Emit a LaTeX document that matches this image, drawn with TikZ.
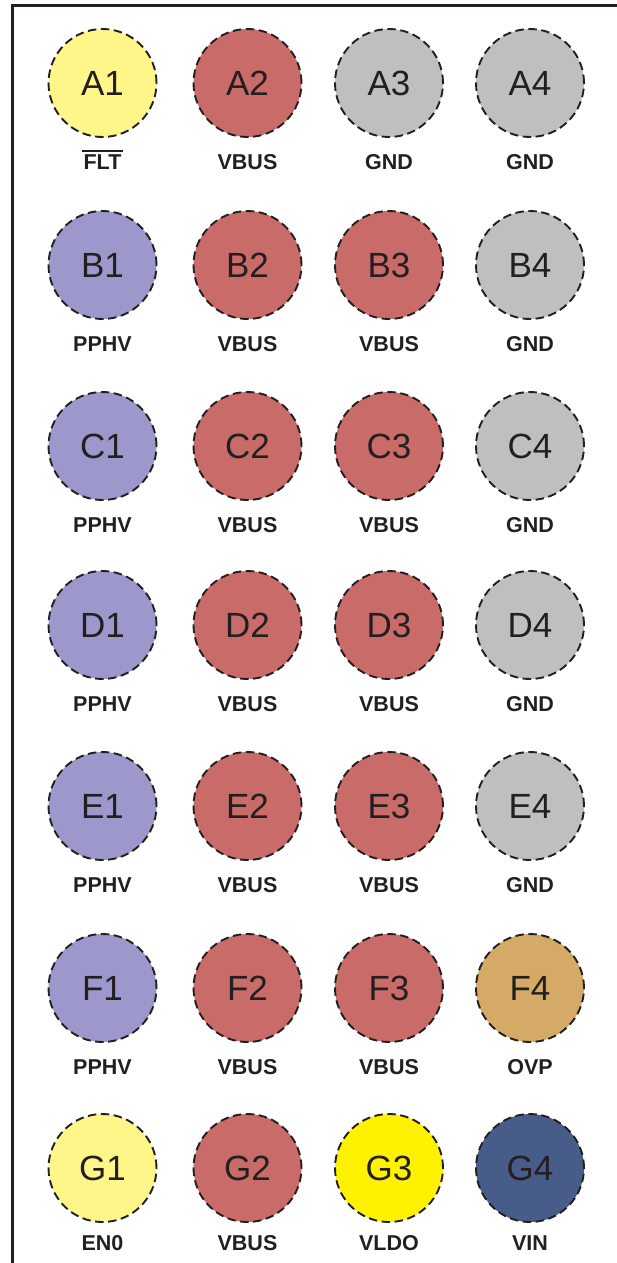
\documentclass[tikz,border=0pt]{standalone}
\usepackage{fontspec}
\setmainfont{Liberation Sans}
\definecolor{ylw}{HTML}{FFF68A}
\definecolor{vbus}{HTML}{C96B68}
\definecolor{gnd}{HTML}{BEBFC1}
\definecolor{pphv}{HTML}{9D98CB}
\definecolor{ovp}{HTML}{D4AA66}
\definecolor{vldo}{HTML}{FFF200}
\definecolor{vin}{HTML}{475C89}
\definecolor{ink}{HTML}{231F20}
\tikzset{
  ball/.style={circle, minimum size=108pt, inner sep=0pt, draw=ink, line width=1.9pt,
    dash pattern=on 8.5pt off 4.5pt, text=ink, font=\fontsize{35}{35}\selectfont},
  pinlbl/.style={anchor=base, text=ink, font=\fontsize{21.5}{22}\selectfont\bfseries, inner sep=0pt}
}
\begin{document}
\begin{tikzpicture}[x=1pt,y=1pt]
\useasboundingbox (0,0) rectangle (616,-1263);
\draw[line width=3pt, ink] (12,-1270) -- (12,-5.5) -- (620,-5.5);
\foreach \r/\y/\o in {A/83/86, B/265/86, C/446/86, D/625/86, E/806/86, F/988/86, G/1168/82} {
  \foreach \c/\x in {1/102.5, 2/247.5, 3/389, 4/530} {
    \coordinate (p\r\c) at (\x,-\y);
    \coordinate (q\r\c) at (\x,-\y-\o);
  }
}
% row A
\node[ball, fill=ylw]  (A1) at (pA1) {A1};
\node[ball, fill=vbus] (A2) at (pA2) {A2};
\node[ball, fill=gnd]  (A3) at (pA3) {A3};
\node[ball, fill=gnd]  (A4) at (pA4) {A4};
\node[pinlbl] (lA1) at (qA1) {FLT};
\draw[ink, line width=2pt] ([xshift=-1.5pt,yshift=3pt]lA1.north west) -- ([xshift=1.5pt,yshift=3pt]lA1.north east);
\node[pinlbl] (lA2) at (qA2) {VBUS};
\node[pinlbl] (lA3) at (qA3) {GND};
\node[pinlbl] (lA4) at (qA4) {GND};
% rows B-E
\foreach \r in {B,C,D,E} {
  \node[ball, fill=pphv] (\r1) at (p\r1) {\r1};
  \node[ball, fill=vbus] (\r2) at (p\r2) {\r2};
  \node[ball, fill=vbus] (\r3) at (p\r3) {\r3};
  \node[ball, fill=gnd]  (\r4) at (p\r4) {\r4};
  \node[pinlbl] (l\r1) at (q\r1) {PPHV};
  \node[pinlbl] (l\r2) at (q\r2) {VBUS};
  \node[pinlbl] (l\r3) at (q\r3) {VBUS};
  \node[pinlbl] (l\r4) at (q\r4) {GND};
}
% row F
\node[ball, fill=pphv] (F1) at (pF1) {F1};
\node[ball, fill=vbus] (F2) at (pF2) {F2};
\node[ball, fill=vbus] (F3) at (pF3) {F3};
\node[ball, fill=ovp]  (F4) at (pF4) {F4};
\node[pinlbl] (lF1) at (qF1) {PPHV};
\node[pinlbl] (lF2) at (qF2) {VBUS};
\node[pinlbl] (lF3) at (qF3) {VBUS};
\node[pinlbl] (lF4) at (qF4) {OVP};
% row G
\node[ball, fill=ylw]  (G1) at (pG1) {G1};
\node[ball, fill=vbus] (G2) at (pG2) {G2};
\node[ball, fill=vldo] (G3) at (pG3) {G3};
\node[ball, fill=vin]  (G4) at (pG4) {G4};
\node[pinlbl] (lG1) at (qG1) {EN0};
\node[pinlbl] (lG2) at (qG2) {VBUS};
\node[pinlbl] (lG3) at (qG3) {VLDO};
\node[pinlbl] (lG4) at (qG4) {VIN};
\end{tikzpicture}
\end{document}
